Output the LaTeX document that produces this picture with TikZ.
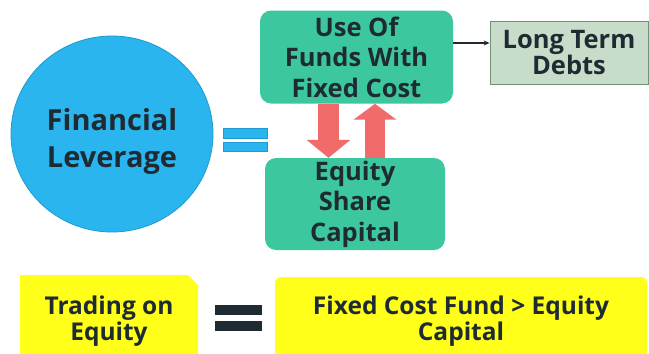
\documentclass[tikz,border=0pt]{standalone}
\usepackage{fontspec}
\setmainfont{Open Sans}
\usetikzlibrary{arrows.meta,shapes.geometric,shapes.misc}
\definecolor{cblue}{HTML}{2BB5EE}
\definecolor{cblueedge}{HTML}{1E9BD0}
\definecolor{mint}{HTML}{3DC79F}
\definecolor{ltgreen}{HTML}{C8DDC9}
\definecolor{ltborder}{HTML}{6F9275}
\definecolor{redar}{HTML}{F26B6B}
\definecolor{yel}{HTML}{FFFF1A}
\definecolor{txt}{HTML}{1F2B33}
\tikzset{
  greenbox/.style={fill=mint, rounded corners=11pt, align=center, text=txt, font=\fontsize{25.5}{30.5}\selectfont\bfseries, inner sep=0pt},
  yellowbox/.style={fill=yel, align=center, text=txt, font=\fontsize{24.5}{26.5}\selectfont\bfseries, inner sep=0pt},
  redarrow/.style={draw=redar, line cap=butt},
  eqbar/.style={fill=#1},
}
\begin{document}
\begin{tikzpicture}[x=1pt,y=-1pt]
\useasboundingbox (0,0) rectangle (649,354);
\fill[white] (0,0) rectangle (649,354);

% circle
\node[ellipse, fill=cblue, draw=cblueedge, line width=0.8pt, minimum width=202pt, minimum height=196pt, inner sep=0pt,
  label={[align=center, text=txt, font=\fontsize{29}{37}\selectfont\bfseries, yshift=-7pt]center:Financial\\Leverage}] (fl) at (112,134) {};

% blue equals
\fill[eqbar=cblue, draw=cblueedge, line width=0.5pt] (223,128) rectangle (267,138);
\fill[eqbar=cblue, draw=cblueedge, line width=0.5pt] (223,142) rectangle (267,151);

% green boxes
\node[greenbox, minimum width=193pt, minimum height=93pt] (top) at (356.5,57) {Use Of\\Funds With\\Fixed Cost};
\node[greenbox, minimum width=180pt, minimum height=92pt] (bot) at (355,204) {Equity\\Share\\Capital};

% red arrows
\draw[redarrow, line width=21pt, -{Triangle[width=43pt,length=18pt]}] ([xshift=-28pt]top.south) coordinate (d1) -- (d1 |- bot.north);
\draw[redarrow, line width=20pt, -{Triangle[width=42pt,length=16pt]}] ([xshift=20pt]bot.north) coordinate (u1) -- (u1 |- top.south);

% long term debts
\node[fill=ltgreen, draw=ltborder, line width=0.8pt, minimum width=158pt, minimum height=63pt, align=center, text=txt, font=\fontsize{25.5}{26}\selectfont\bfseries, inner sep=0pt] (ltd) at (569,52.5) {Long Term\\Debts};
\draw[-{Stealth[length=6pt,width=5pt]}, line width=1.2pt, txt] ([yshift=14pt]top.east) coordinate (a) -- (a -| ltd.west);

% yellow boxes
\node[yellowbox, chamfered rectangle, chamfered rectangle corners=north east, chamfered rectangle xsep=5pt, chamfered rectangle ysep=5pt, minimum width=178pt, minimum height=92pt] (toe) at (109,321) {Trading on\\Equity};
\node[yellowbox, rounded corners=6pt, minimum width=372pt, minimum height=88pt] (fcf) at (461,321) {Fixed Cost Fund > Equity\\Capital};

% black equals
\fill[eqbar=txt] (215,305) rectangle (262,315);
\fill[eqbar=txt] (215,321) rectangle (262,331);
\end{tikzpicture}
\end{document}
